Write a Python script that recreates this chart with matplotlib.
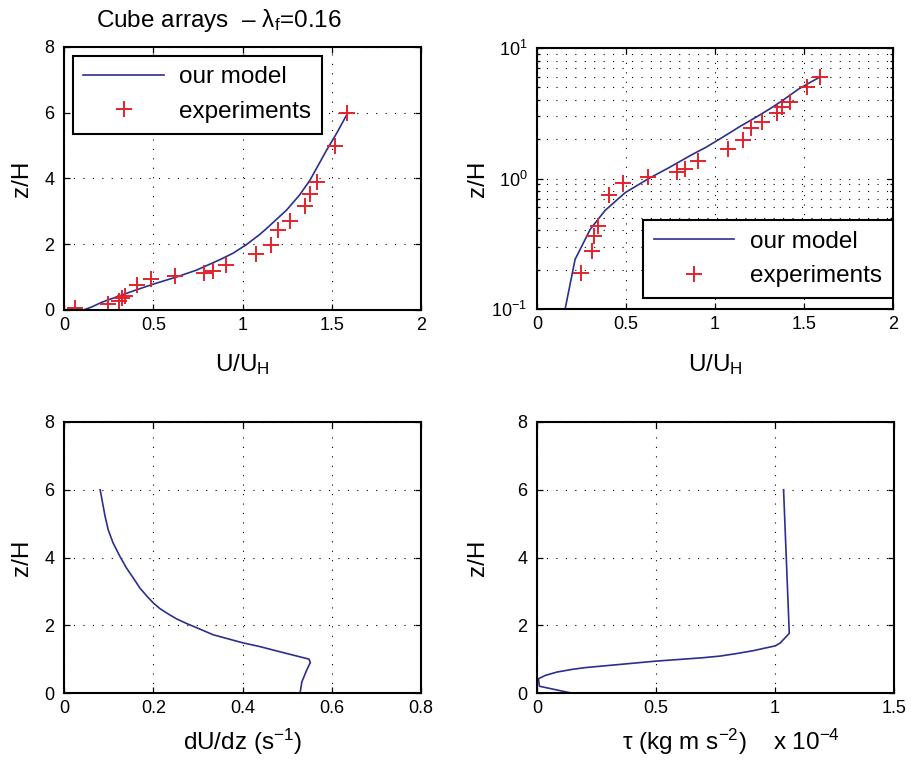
import matplotlib
matplotlib.use('Agg')
from matplotlib import pyplot as plt
from matplotlib.ticker import LogLocator, NullFormatter
import numpy as np

plt.rcParams['font.family'] = ['Liberation Sans', 'DejaVu Sans']
plt.rcParams['mathtext.fontset'] = 'custom'
plt.rcParams['mathtext.rm'] = 'Liberation Sans'
plt.rcParams['mathtext.it'] = 'Liberation Sans:italic'
plt.rcParams['mathtext.bf'] = 'Liberation Sans:bold'

#-----------------------------------------------------------------------
#	Data: model profiles and wind tunnel measurements (cube arrays)
#-----------------------------------------------------------------------

# mean velocity, model
zModel = [0.0, 0.10, 0.24, 0.41, 0.57, 0.78, 1.0, 1.21, 1.53, 1.73, 1.99,
          2.30, 2.48, 3.04, 3.5, 3.95, 4.86, 5.4, 6.0]
uModel = [0.11, 0.158, 0.214, 0.30, 0.383, 0.496, 0.628, 0.741, 0.873, 0.948,
          1.022, 1.097, 1.135, 1.247, 1.32, 1.378, 1.471, 1.53, 1.59]

# mean velocity, experiments
zExp = [0.05, 0.19, 0.28, 0.36, 0.43, 0.75, 0.93, 1.03, 1.13, 1.19, 1.37,
        1.69, 1.97, 2.42, 2.71, 3.17, 3.54, 3.89, 5.0, 6.0]
uExp = [0.062, 0.248, 0.31, 0.323, 0.341, 0.407, 0.485, 0.621, 0.784, 0.832,
        0.907, 1.075, 1.158, 1.20, 1.265, 1.349, 1.378, 1.419, 1.518, 1.588]

# velocity gradient
zGrad = [0.0, 0.33, 0.68, 0.90, 1.0, 1.23, 1.37, 1.48, 1.72, 1.89, 2.05, 2.19,
         2.33, 2.49, 2.66, 2.87, 3.10, 3.40, 3.69, 4.04, 4.43, 4.82, 5.22, 6.0]
dudz = [0.529, 0.533, 0.544, 0.552, 0.549, 0.480, 0.439, 0.401, 0.334, 0.304,
        0.275, 0.252, 0.234, 0.215, 0.200, 0.185, 0.170, 0.155, 0.140, 0.125,
        0.110, 0.099, 0.092, 0.081]

# shear stress (x 1e-4)
zTau = [0.0, 0.20, 0.42, 0.52, 0.62, 0.70, 0.75, 0.84, 0.94, 1.04, 1.09,
        1.16, 1.25, 1.39, 1.47, 1.76, 6.0]
tau = [0.143, 0.010, 0.006, 0.035, 0.085, 0.15, 0.203, 0.343, 0.498, 0.695,
       0.769, 0.835, 0.909, 1.0, 1.021, 1.06, 1.036]

#-----------------------------------------------------------------------
#	Plot styling helpers
#-----------------------------------------------------------------------

W, H = 911, 768
LINE_C = '#2B2F8E'
MARK_C = '#E3232C'
GRID_LS = (0, (1, 7.5))
FS = 17.5
TFS = 13

def axesAt(fig, x0, y0, x1, y1):
	return fig.add_axes([x0 / W, 1 - y1 / H, (x1 - x0) / W, (y1 - y0) / H])

def styleAxes(ax):
	ax.tick_params(which='both', direction='in', top=True, right=True,
		labelsize=TFS, width=0.9, colors='k')
	ax.tick_params(which='major', length=4.5)
	ax.tick_params(which='minor', length=2.5)
	ax.tick_params(axis='x', pad=5)
	ax.tick_params(axis='y', pad=7)
	for s in ax.spines.values():
		s.set_linewidth(1.5)
	ax.set_axisbelow(True)
	ax.grid(True, which='major', linestyle=GRID_LS, color='k', linewidth=0.8)

def labels(ax, xl, xc, yc):
	ax.set_xlabel(xl, fontsize=FS, va='baseline')
	ax.xaxis.set_label_coords(xc, yc)
	ax.set_ylabel('z/H', fontsize=FS, va='center')

def makeLegend(ax, **kw):
	leg = ax.legend(fontsize=FS, fancybox=False, framealpha=1, edgecolor='k',
		handlelength=3.3, handletextpad=0.65, borderpad=0.45, numpoints=1, **kw)
	leg.get_frame().set_linewidth(1.5)
	return leg

fig = plt.figure(figsize=(W / 100, H / 100), dpi=100)

# top left: velocity profile, linear
ax1 = axesAt(fig, 64, 47, 421, 310)
ax1.plot(uModel, zModel, color=LINE_C, lw=1.2, label='our model')
ax1.plot(uExp, zExp, '+', color=MARK_C, ms=11, mew=1.4, label='experiments')
ax1.set_xlim(0, 2)
ax1.set_ylim(0, 8)
ax1.set_xticks([0, 0.5, 1, 1.5, 2])
ax1.set_xticklabels(['0', '0.5', '1', '1.5', '2'])
ax1.set_yticks([0, 2, 4, 6, 8])
styleAxes(ax1)
labels(ax1, r'U/U$_\mathrm{H}$', 0.5, -(371 - 310) / 263)
ax1.yaxis.set_label_coords((22 - 64) / 357, 0.5)
makeLegend(ax1, loc='upper left', borderaxespad=0.35)

# top right: velocity profile, log height
ax2 = axesAt(fig, 537, 48, 893, 309)
ax2.plot(uModel, zModel, color=LINE_C, lw=1.2, label='our model')
ax2.plot(uExp, zExp, '+', color=MARK_C, ms=11, mew=1.4, label='experiments')
ax2.set_yscale('log')
ax2.set_xlim(0, 2)
ax2.set_ylim(0.1, 10)
ax2.set_xticks([0, 0.5, 1, 1.5, 2])
ax2.set_xticklabels(['0', '0.5', '1', '1.5', '2'])
ax2.yaxis.set_minor_locator(LogLocator(base=10, subs=np.arange(2, 10)))
ax2.yaxis.set_minor_formatter(NullFormatter())
styleAxes(ax2)
ax2.yaxis.grid(True, which='minor', linestyle=GRID_LS, color='k', linewidth=0.8)
labels(ax2, r'U/U$_\mathrm{H}$', 0.5, -(371 - 309) / 261)
ax2.yaxis.set_label_coords((478 - 537) / 356, 0.5)
makeLegend(ax2, loc='lower right', bbox_to_anchor=(1.0, 0.042), borderaxespad=0)

# bottom left: velocity gradient
ax3 = axesAt(fig, 64, 422, 421, 693)
ax3.plot(dudz, zGrad, color=LINE_C, lw=1.2)
ax3.set_xlim(0, 0.8)
ax3.set_ylim(0, 8)
ax3.set_xticks([0, 0.2, 0.4, 0.6, 0.8])
ax3.set_xticklabels(['0', '0.2', '0.4', '0.6', '0.8'])
ax3.set_yticks([0, 2, 4, 6, 8])
styleAxes(ax3)
labels(ax3, r'dU/dz (s$^{-1}$)', 0.5, -(750 - 693) / 271)
ax3.yaxis.set_label_coords((22 - 64) / 357, 0.5)

# bottom right: shear stress
ax4 = axesAt(fig, 537, 422, 894, 693)
ax4.plot(tau, zTau, color=LINE_C, lw=1.2)
ax4.set_xlim(0, 1.5)
ax4.set_ylim(0, 8)
ax4.set_xticks([0, 0.5, 1, 1.5])
ax4.set_xticklabels(['0', '0.5', '1', '1.5'])
ax4.set_yticks([0, 2, 4, 6, 8])
styleAxes(ax4)
labels(ax4, r'τ (kg m s$^{-2}$)', (684 - 537) / 357, -(750 - 693) / 271)
ax4.yaxis.set_label_coords((478 - 537) / 357, 0.5)
fig.text(773 / W, 1 - 750 / H, r'x 10$^{-4}$', fontsize=FS, ha='left', va='baseline')

fig.text(219 / W, 1 - 26.7 / H, r'Cube arrays  – λ$_\mathrm{f}$=0.16', fontsize=FS,
	ha='center', va='baseline')

fig.savefig('out.png', dpi=100)
